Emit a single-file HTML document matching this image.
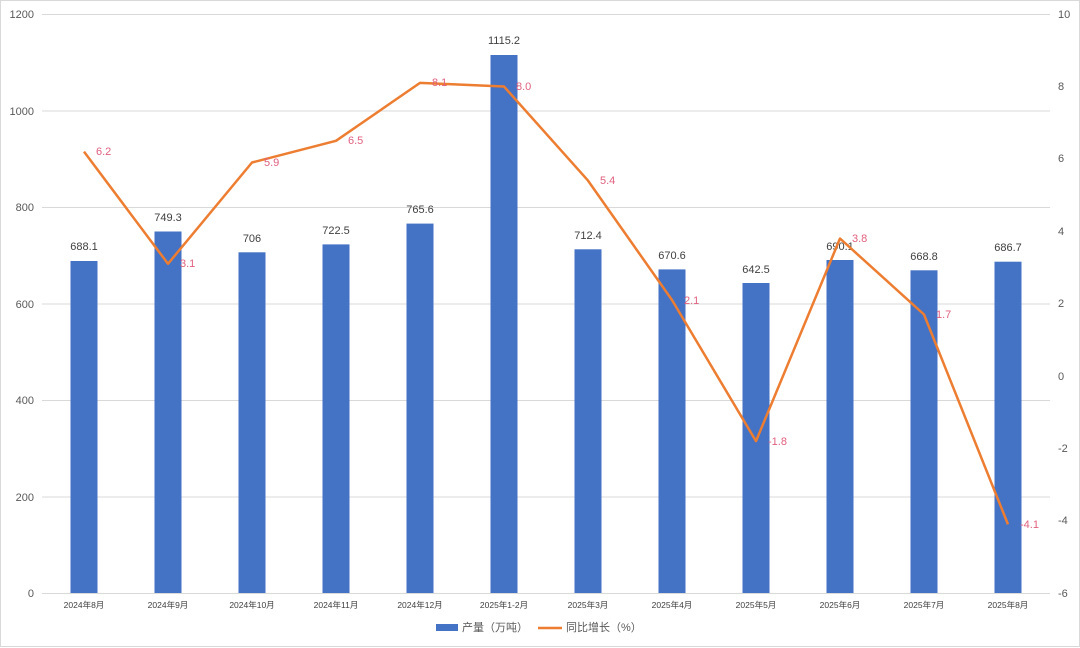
<!DOCTYPE html>
<html><head><meta charset="utf-8"><style>
body{margin:0;background:#fff}
svg{display:block;font-family:"Liberation Sans","Noto Sans CJK SC",sans-serif}
</style></head><body>
<svg width="1080" height="648" viewBox="0 0 1080 648" xmlns="http://www.w3.org/2000/svg">
<rect x="0.5" y="0.5" width="1079" height="646" fill="#fff" stroke="#d9d9d9"/>
<g stroke="#d9d9d9" stroke-width="1">
<line x1="42" x2="1050" y1="14.5" y2="14.5"/>
<line x1="42" x2="1050" y1="111" y2="111"/>
<line x1="42" x2="1050" y1="207.5" y2="207.5"/>
<line x1="42" x2="1050" y1="304" y2="304"/>
<line x1="42" x2="1050" y1="400.5" y2="400.5"/>
<line x1="42" x2="1050" y1="497" y2="497"/>
<line x1="42" x2="1050" y1="593.5" y2="593.5"/>
</g>
<g font-size="11" fill="#595959" text-anchor="end">
<text x="34" y="18">1200</text><text x="34" y="115">1000</text><text x="34" y="211">800</text>
<text x="34" y="308">600</text><text x="34" y="404">400</text><text x="34" y="501">200</text><text x="34" y="597">0</text>
</g>
<g font-size="11" fill="#595959" text-anchor="start">
<text x="1058" y="18">10</text><text x="1058" y="90">8</text><text x="1058" y="162">6</text>
<text x="1058" y="235">4</text><text x="1058" y="307">2</text><text x="1058" y="380">0</text>
<text x="1058" y="452">-2</text><text x="1058" y="524">-4</text><text x="1058" y="597">-6</text>
</g>
<g fill="#4472c4">
<rect x="70.5" y="261" width="27" height="332"/>
<rect x="154.5" y="231.5" width="27" height="361.5"/>
<rect x="238.5" y="252.3" width="27" height="340.7"/>
<rect x="322.5" y="244.4" width="27" height="348.6"/>
<rect x="406.5" y="223.6" width="27" height="369.4"/>
<rect x="490.5" y="55" width="27" height="538"/>
<rect x="574.5" y="249.3" width="27" height="343.7"/>
<rect x="658.5" y="269.4" width="27" height="323.6"/>
<rect x="742.5" y="283" width="27" height="310"/>
<rect x="826.5" y="260" width="27" height="333"/>
<rect x="910.5" y="270.3" width="27" height="322.7"/>
<rect x="994.5" y="261.7" width="27" height="331.3"/>
</g>
<g font-size="11" fill="#404040" text-anchor="middle">
<text x="84" y="250">688.1</text><text x="168" y="221">749.3</text><text x="252" y="242">706</text>
<text x="336" y="234">722.5</text><text x="420" y="213">765.6</text><text x="504" y="44">1115.2</text>
<text x="588" y="239">712.4</text><text x="672" y="259">670.6</text><text x="756" y="273">642.5</text>
<text x="840" y="250">690.1</text><text x="924" y="260">668.8</text><text x="1008" y="251">686.7</text>
</g>
<polyline fill="none" stroke="#ed7d31" stroke-width="2.5" stroke-linejoin="round"
points="84,151.6 168,263.8 252,162.5 336,140.8 420,82.9 504,86.5 588,180.6 672,300 756,441.1 840,238.5 924,314.5 1008,524.4"/>
<g font-size="11" fill="#e0607e">
<text x="96" y="155">6.2</text><text x="180" y="267">3.1</text><text x="264" y="166">5.9</text>
<text x="348" y="144">6.5</text><text x="432" y="86">8.1</text><text x="516" y="90">8.0</text>
<text x="600" y="184">5.4</text><text x="684" y="304">2.1</text><text x="768" y="445">-1.8</text>
<text x="852" y="242">3.8</text><text x="936" y="318">1.7</text><text x="1020" y="528">-4.1</text>
</g>
<g font-size="8.5" fill="#404040" text-anchor="middle">
<text x="84" y="608">2024年8月</text><text x="168" y="608">2024年9月</text><text x="252" y="608">2024年10月</text>
<text x="336" y="608">2024年11月</text><text x="420" y="608">2024年12月</text><text x="504" y="608">2025年1-2月</text>
<text x="588" y="608">2025年3月</text><text x="672" y="608">2025年4月</text><text x="756" y="608">2025年5月</text>
<text x="840" y="608">2025年6月</text><text x="924" y="608">2025年7月</text><text x="1008" y="608">2025年8月</text>
</g>
<rect x="436" y="624" width="22" height="7" fill="#4472c4"/>
<text x="462" y="631" font-size="11" fill="#595959">产量（万吨）</text>
<line x1="538" x2="562" y1="628" y2="628" stroke="#ed7d31" stroke-width="2.5"/>
<text x="566" y="631" font-size="11" fill="#595959">同比增长（%）</text>
</svg>
</body></html>
